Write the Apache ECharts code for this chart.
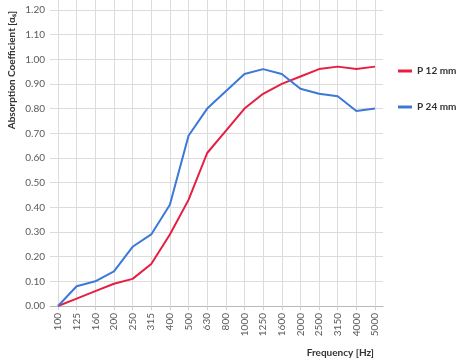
<!DOCTYPE html>
<html><head><meta charset="utf-8">
<script src="https://cdn.jsdelivr.net/npm/echarts@6/dist/echarts.min.js"></script>
<style>html,body{margin:0;padding:0;background:#fff}#c{width:461px;height:364px}</style>
</head><body><div id="c"></div>
<script>
const categories = ['100','125','160','200','250','315','400','500','630','800','1000','1250','1600','2000','2500','3150','4000','5000'];
const p12 = [0, 0.03, 0.06, 0.09, 0.11, 0.17, 0.29, 0.43, 0.62, 0.71, 0.80, 0.86, 0.90, 0.93, 0.96, 0.97, 0.96, 0.97];
const p24 = [0, 0.08, 0.10, 0.14, 0.24, 0.29, 0.41, 0.69, 0.80, 0.87, 0.94, 0.96, 0.94, 0.88, 0.86, 0.85, 0.79, 0.80];
const seriesNames = ['P 12 mm', 'P 24 mm'];
const xTitle = 'Frequency [Hz]';
const yTitle = 'Absorption Coefficient [αₛ]';

const FONT = 'Lato';
const chart = echarts.init(document.getElementById('c'));
chart.setOption({
  animation: false,
  textStyle: {fontFamily: FONT},
  grid: [
    {left: 50, right: 78, top: 10, bottom: 58},
    {left: 58, right: 86, top: 0, bottom: 58}
  ],
  xAxis: [
    {gridIndex: 0, type: 'value', min: 0, max: 1,
     axisLine: {show: true, lineStyle: {color: '#b8b8b8', width: 1}},
     axisTick: {show: false}, axisLabel: {show: false}, splitLine: {show: false}},
    {gridIndex: 1, type: 'category', data: categories, boundaryGap: false,
     axisLine: {show: false},
     axisTick: {show: true, length: 4, lineStyle: {color: '#cfcfcf'}},
     axisLabel: {rotate: 90, fontSize: 10, color: '#5a5a5a', margin: 7, fontFamily: FONT},
     splitLine: {show: true, lineStyle: {color: '#dcdcdc', width: 1}}}
  ],
  yAxis: [
    {gridIndex: 0, type: 'value', min: 0, max: 1.2, interval: 0.1,
     axisLine: {show: false}, axisTick: {show: false},
     axisLabel: {fontSize: 10, color: '#5a5a5a', margin: 5, fontFamily: FONT,
       formatter: v => v.toFixed(2)},
     splitLine: {show: true, lineStyle: {color: '#dcdcdc', width: 1}}},
    {gridIndex: 1, type: 'value', min: 0, max: 1.24, show: false}
  ],
  legend: {
    orient: 'vertical', left: 393, top: 61, itemWidth: 14, itemHeight: 3, itemGap: 26,
    icon: 'rect',
    textStyle: {fontSize: 10, fontWeight: 'bold', color: '#333', fontFamily: FONT},
    data: seriesNames
  },
  series: [
    {name: seriesNames[0], type: 'line', xAxisIndex: 1, yAxisIndex: 1, data: p12,
     showSymbol: false, symbol: 'none', lineStyle: {color: '#e61e42', width: 2}, itemStyle: {color: '#e61e42'}},
    {name: seriesNames[1], type: 'line', xAxisIndex: 1, yAxisIndex: 1, data: p24,
     showSymbol: false, symbol: 'none', lineStyle: {color: '#3c78d8', width: 2}, itemStyle: {color: '#3c78d8'}}
  ],
  graphic: [
    {type: 'text', x: 374, y: 353, style: {text: xTitle, align: 'right', verticalAlign: 'middle',
      font: 'bold 10px ' + FONT, fill: '#333'}},
    {type: 'text', x: 12, y: 70, rotation: Math.PI / 2,
     style: {text: yTitle, align: 'center', verticalAlign: 'middle',
      font: 'bold 10px ' + FONT, fill: '#333'}}
  ]
});
</script></body></html>
